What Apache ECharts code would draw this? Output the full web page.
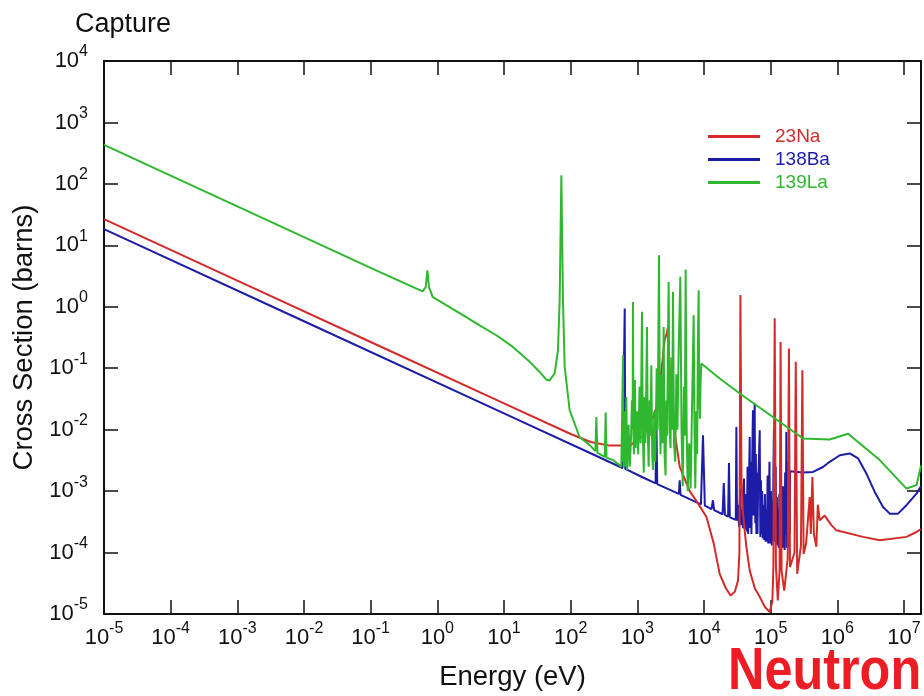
<!DOCTYPE html>
<html>
<head>
<meta charset="utf-8">
<title>Capture</title>
<script src="https://cdn.jsdelivr.net/npm/echarts@6.0.0/dist/echarts.min.js"></script>
<style>
  html, body { margin: 0; padding: 0; background: #fff; }
  #chart { width: 924px; height: 696px; }
</style>
</head>
<body>
<div id="chart"></div>
<script>
// [energy (eV), cross section (barns)]
const ba138 = [
  [1e-5, 18.4], [1e-2, 0.582], [10, 0.0184], [300, 0.00336], [600, 0.00238],
  [635, 0.0024], [647, 0.94], [660, 0.0023], [1200, 0.00168], [1880, 0.00134],
  [1930, 0.015], [1990, 0.0013], [4200, 9e-4], [4320, 0.0015], [4450, 8.7e-4],
  [9000, 6.1e-4], [9660, 0.0081], [10300, 5.8e-4], [13000, 5.1e-4], [13600, 7.1e-4],
  [14200, 4.9e-4], [19000, 4.2e-4], [19800, 0.00135], [20600, 4.1e-4], [23000, 3.85e-4],
  [23700, 0.00287], [24400, 3.75e-4], [30000, 3.4e-4], [30600, 0.0111], [31300, 3.3e-4],
  [32500, 6e-4], [33500, 2.6e-4], [35000, 1.1e-3], [36000, 2.8e-4], [37500, 5e-4],
  [38500, 2.5e-4], [39800, 0.0016], [41000, 2.4e-4], [42500, 9e-4], [44000, 2.2e-4],
  [45000, 2.5e-3], [46000, 2e-4], [47200, 1.2e-3], [48500, 0.0076], [49500, 2.5e-4],
  [50500, 3e-3], [51500, 2e-4], [52500, 1.5e-3], [53300, 6e-3], [54300, 0.0207],
  [55200, 4e-4], [56000, 8e-3], [57600, 0.0266], [58800, 3e-4], [60000, 4e-3],
  [61000, 2e-4], [62200, 2e-3], [63500, 2e-4], [65000, 1.3e-3], [66500, 3e-3],
  [68500, 0.0098], [70000, 1.8e-4], [71500, 1.5e-3], [73000, 2e-4], [74500, 1e-3],
  [76000, 1.7e-4], [78000, 6e-4], [80000, 1.6e-4], [82000, 9e-4], [84000, 1.5e-4],
  [86000, 5e-4], [88000, 1.5e-4], [90000, 1.8e-3], [92000, 1.4e-4], [94000, 7e-4],
  [96000, 3e-3], [98000, 1.4e-4], [101000, 1e-3], [104000, 1.3e-4], [106000, 7e-4],
  [108000, 1.5e-4], [110000, 2e-3], [112000, 0.0104], [114000, 1.5e-4], [116500, 6e-4],
  [119000, 2.5e-3], [121000, 1.4e-4], [124000, 8e-4], [126500, 1.3e-4], [129000, 5e-4],
  [132000, 1.2e-4], [135000, 9e-4], [138000, 1.3e-4], [141000, 2e-3], [144000, 1.3e-4],
  [147000, 6e-4], [150000, 1.2e-4], [153000, 1.2e-3], [156000, 1.2e-4], [159000, 4e-4],
  [162000, 1.1e-4], [165000, 2e-3], [168500, 2e-4], [172000, 0.0092], [175000, 1.2e-4],
  [178000, 6e-4], [181000, 1.2e-4], [184000, 3e-3], [187000, 1.3e-4], [190000, 1e-3],
  [193000, 2e-4], [196000, 0.0021], [300000, 0.002], [432000, 0.00205], [610000, 0.00247],
  [769000, 0.003], [1.09e6, 0.00383], [1.53e6, 0.0041], [2.05e6, 0.0034], [2.73e6, 0.00193],
  [3.64e6, 9.7e-4], [4.85e6, 5.5e-4], [6.11e6, 4.3e-4], [8.15e6, 4.3e-4], [1.09e7, 5.9e-4],
  [1.54e7, 9.1e-4], [1.8e7, 0.0012]
];

const na23 = [
  [1e-5, 26.7], [1e-3, 2.67], [1e-1, 0.267], [10, 0.0267], [100, 0.0085],
  [200, 0.0063], [385, 0.0055], [768, 0.0055], [1216, 0.0078], [1718, 0.016],
  [2042, 0.027], [2570, 0.29], [2790, 0.38], [2850, 0.45], [2920, 0.3],
  [3100, 0.06], [3500, 0.012], [4320, 0.0025], [6100, 0.001], [8000, 6.5e-4],
  [10900, 3.8e-4], [14000, 1.4e-4], [17200, 4.5e-5], [21000, 2.7e-5], [25000, 2e-5],
  [29000, 2.3e-5], [32400, 3.5e-5], [34000, 1e-4], [35200, 1.55], [36500, 0.0015],
  [38500, 4.3e-4], [43000, 1.3e-4], [48500, 5.1e-5], [58000, 2.6e-5], [68500, 1.9e-5],
  [82000, 1.3e-5], [96800, 1.08e-5], [106000, 1.6e-5], [110000, 6e-5], [115000, 0.65],
  [120000, 6e-5], [128000, 1.66e-5], [136000, 5e-5], [141000, 0.268], [146000, 5e-5],
  [160000, 2.4e-5], [180000, 8e-5], [188000, 0.209], [195000, 5.8e-5], [228000, 1e-4],
  [238000, 0.127], [250000, 4.5e-5], [285000, 1.3e-4], [299000, 0.093], [312000, 9.5e-5],
  [340000, 1.4e-4], [385000, 8e-4], [400000, 2e-4], [423000, 0.0017], [445000, 2e-4],
  [485000, 1.24e-4], [510000, 6e-4], [545000, 3.35e-4], [647000, 4e-4], [815000, 2.8e-4],
  [969000, 2.3e-4], [2.43e6, 1.8e-4], [4.33e6, 1.58e-4], [1.09e7, 1.8e-4], [1.54e7, 2.16e-4],
  [1.8e7, 2.4e-4]
];

const la139 = [
  [1e-5, 430], [1e-3, 43], [0.1, 4.3], [0.6, 1.78], [0.67, 2.1],
  [0.71, 3.9], [0.75, 2.1], [0.85, 1.45], [1.36, 1.06], [2.42, 0.73],
  [4.31, 0.5], [7.68, 0.344], [13.6, 0.222], [24.3, 0.127], [34.3, 0.087],
  [43.2, 0.065], [48, 0.063], [57.5, 0.082], [64.5, 0.196], [68.4, 1.28],
  [72.5, 138], [76.7, 1.28], [81.3, 0.105], [96.6, 0.0207], [136, 0.0076],
  [193, 0.0056], [235, 0.0045], [243, 0.016], [252, 0.0042], [325, 0.0036],
  [335, 0.019], [345, 0.0035], [431, 0.0032], [576, 0.0025], [604, 0.0024],
  [610, 0.163], [618, 0.003], [640, 0.02], [660, 0.0025], [684, 0.034],
  [705, 0.0022], [740, 0.012], [770, 0.0025], [800, 0.006], [830, 0.03],
  [850, 0.01], [861, 1.2], [875, 0.008], [890, 0.004], [920, 0.064],
  [945, 0.005], [990, 0.02], [1030, 0.004], [1080, 0.05], [1120, 0.006],
  [1175, 0.83], [1210, 0.008], [1250, 0.002], [1280, 0.034], [1320, 0.006],
  [1360, 0.05], [1397, 0.47], [1430, 0.01], [1480, 0.0025], [1530, 0.03],
  [1570, 0.008], [1623, 0.112], [1670, 0.004], [1720, 0.0022], [1800, 0.02],
  [1860, 0.003], [1950, 0.1], [2020, 0.01], [2113, 6.9], [2180, 0.02],
  [2230, 0.004], [2300, 0.08], [2380, 0.006], [2485, 0.47], [2560, 0.004],
  [2650, 0.0018], [2720, 0.03], [2800, 0.008], [2880, 0.3], [2950, 2.54],
  [3050, 0.01], [3150, 0.005], [3250, 0.15], [3330, 0.01], [3430, 1.75],
  [3550, 0.006], [3700, 0.003], [3850, 0.08], [4000, 0.01], [4200, 0.3],
  [4420, 3.07], [4600, 0.01], [4800, 0.0012], [5000, 0.05], [5150, 0.008],
  [5310, 4.05], [5500, 0.01], [5700, 0.001], [6000, 0.006], [6300, 0.0011],
  [6600, 0.02], [7000, 0.73], [7200, 0.01], [7400, 0.0011], [7700, 0.02],
  [7900, 0.004], [8100, 0.3], [8320, 1.86], [8500, 0.03], [8700, 0.015],
  [8900, 0.06], [9130, 0.119], [17200, 0.068], [34400, 0.0387], [61100, 0.025],
  [108000, 0.0161], [243000, 0.0086], [306000, 0.0072], [769000, 0.0069], [1.45e6, 0.0086],
  [4.33e6, 0.0032], [1.09e7, 0.0011], [1.54e7, 0.00125], [1.8e7, 0.0026]
];

const FONT = '"Liberation Sans", Arial, Helvetica, sans-serif';
const RED = '#d42a2a';
const BLUE = '#1c1ca8';
const GREEN = '#2fb82f';
const INK = '#111';

// 10^n labels, blank for the non-decade end of the axis
function powLabel(v) {
  const n = Math.log10(v);
  const r = Math.round(n);
  if (Math.abs(n - r) > 1e-6) return '';
  return '{b|10}{s|' + r + '}';
}

const labelRich = {
  b: { fontSize: 22, fontFamily: FONT, color: INK },
  s: { fontSize: 16, fontFamily: FONT, color: INK, padding: [0, 0, 18, 0] }
};

function logAxis(extra) {
  return Object.assign({
    type: 'log',
    logBase: 10,
    interval: 1,
    axisLine: { lineStyle: { color: INK, width: 2 } },
    axisTick: { inside: true, length: 14, lineStyle: { color: INK, width: 1.5 } },
    minorTick: { show: false },
    splitLine: { show: false }
  }, extra);
}

const chart = echarts.init(document.getElementById('chart'));

chart.setOption({
  animation: false,
  backgroundColor: '#fff',
  title: {
    text: 'Capture',
    left: 70,
    top: 6,
    textStyle: { fontFamily: FONT, fontSize: 27, fontWeight: 'normal', color: INK }
  },
  grid: { left: 104, right: 3, top: 61, bottom: 82 },
  legend: {
    orient: 'vertical',
    left: 703,
    top: 122,
    icon: 'rect',
    itemWidth: 52,
    itemHeight: 3,
    itemGap: 4,
    textStyle: { fontFamily: FONT, fontSize: 19, padding: [0, 0, 0, 10] },
    data: [
      { name: '23Na', textStyle: { color: RED } },
      { name: '138Ba', textStyle: { color: BLUE } },
      { name: '139La', textStyle: { color: GREEN } }
    ]
  },
  xAxis: [
    logAxis({
      min: 1e-5, max: 1.8e7,
      name: 'Energy (eV)',
      nameLocation: 'middle',
      nameGap: 49,
      nameTextStyle: { fontFamily: FONT, fontSize: 27.5, color: INK },
      axisLabel: { formatter: powLabel, rich: labelRich, margin: 7 }
    }),
    logAxis({
      position: 'top', min: 1e-5, max: 1.8e7,
      axisLabel: { show: false }
    })
  ],
  yAxis: [
    logAxis({
      min: 1e-5, max: 1e4,
      name: 'Cross Section (barns)',
      nameLocation: 'middle',
      nameGap: 58,
      nameRotate: 90,
      nameTextStyle: { fontFamily: FONT, fontSize: 27.5, color: INK },
      axisLabel: { formatter: powLabel, rich: labelRich, margin: 16 }
    }),
    logAxis({
      position: 'right', min: 1e-5, max: 1e4,
      axisLabel: { show: false }
    })
  ],
  series: [
    {
      name: '138Ba', type: 'line', data: ba138, symbol: 'none',
      lineStyle: { width: 2, color: BLUE }, itemStyle: { color: BLUE }
    },
    {
      name: '23Na', type: 'line', data: na23, symbol: 'none',
      lineStyle: { width: 2, color: RED }, itemStyle: { color: RED }
    },
    {
      name: '139La', type: 'line', data: la139, symbol: 'none',
      lineStyle: { width: 2, color: GREEN }, itemStyle: { color: GREEN }
    }
  ],
  graphic: [
    {
      type: 'text',
      left: 728,
      top: 642,
      z: 100,
      scaleX: 0.84,
      style: { text: 'Neutron', font: 'bold 60px "Liberation Sans", Arial, sans-serif', fill: '#ee1c25' }
    }
  ]
});
</script>
</body>
</html>
